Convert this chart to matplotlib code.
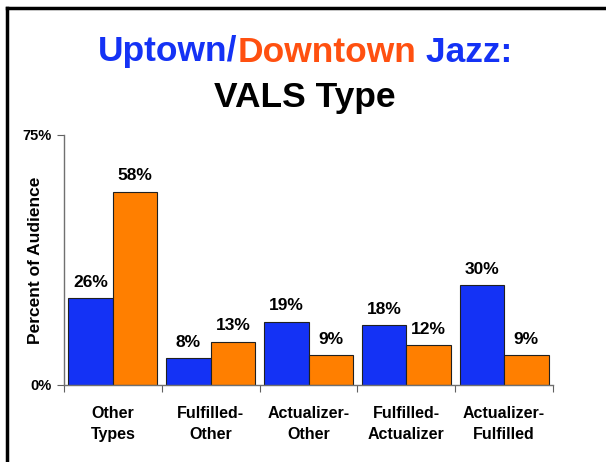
import matplotlib
matplotlib.use("Agg")
import matplotlib.pyplot as plt
import numpy as np
from matplotlib.lines import Line2D

plt.rcParams['font.family'] = ['Liberation Sans', 'DejaVu Sans']
plt.rcParams['font.weight'] = 'bold'

categories = ["Other\nTypes", "Fulfilled-\nOther", "Actualizer-\nOther",
              "Fulfilled-\nActualizer", "Actualizer-\nFulfilled"]
uptown = [26, 8, 19, 18, 30]
downtown = [58, 13, 9, 12, 9]
ytick_vals = [0, 75]
ytick_labels = ["0%", "75%"]

blue = "#1432F5"
orange = "#FF7F00"

fig = plt.figure(figsize=(6.06, 4.62), dpi=100)
ax = fig.add_axes([64/606, 1-385/462, (553-64)/606, (385-135)/462])

x = np.arange(len(categories))
w = 0.455
ax.bar(x - w/2, uptown, width=w, color=blue, edgecolor="#202020", linewidth=0.8)
ax.bar(x + w/2, downtown, width=w, color=orange, edgecolor="#202020", linewidth=0.8)

for xi, v in zip(x - w/2, uptown):
    ax.annotate(f"{v}%", (xi, v), xytext=(0, 6), textcoords="offset points",
                ha="center", va="bottom", fontsize=12.5, fontweight="bold")
for xi, v in zip(x + w/2, downtown):
    ax.annotate(f"{v}%", (xi, v), xytext=(0, 6), textcoords="offset points",
                ha="center", va="bottom", fontsize=12.5, fontweight="bold")

ax.set_xlim(-0.5, len(categories) - 0.5)
ax.set_ylim(0, 75)
ax.set_yticks(ytick_vals)
ax.set_yticklabels(ytick_labels, fontsize=10.5, fontweight="bold")
ax.set_xticks(np.arange(len(categories) + 1) - 0.5)
ax.set_xticklabels([])
ax.set_xticks(x, minor=True)
ax.set_xticklabels(categories, minor=True, fontsize=11.5, fontweight="bold", linespacing=1.55)
ax.tick_params(axis='x', which='minor', length=0, pad=15)
ax.tick_params(axis='x', which='major', length=5, color="#606060", direction='out')
ax.tick_params(axis='y', length=5, color="#606060", direction='out', pad=4)
for s in ["top", "right"]:
    ax.spines[s].set_visible(False)
for s in ["left", "bottom"]:
    ax.spines[s].set_color("#707070")
    ax.spines[s].set_linewidth(1)

ax.set_ylabel("Percent of Audience", fontsize=12.5, fontweight="bold")
ax.yaxis.set_label_coords(-0.043, 0.5)

# Title in two colours
fig.canvas.draw()
renderer = fig.canvas.get_renderer()
parts = [("Uptown/", blue), ("Downtown", "#FF5010"), (" Jazz:", blue)]
fs = 25.5
texts = [fig.text(0, 0, p, fontsize=fs, fontweight="bold", color=c, va="center") for p, c in parts]
widths = [t.get_window_extent(renderer).width for t in texts]
total = sum(widths)
xstart = 305 - total / 2
for t, wd in zip(texts, widths):
    t.set_position((xstart / 606, 1 - 52/462))
    xstart += wd
fig.text(305/606, 1 - 97/462, "VALS Type", fontsize=fs, fontweight="bold", color="black",
         ha="center", va="center")

# Frame
fig.add_artist(Line2D([7/606, 7/606], [0, 1 - 8/462], color="black", linewidth=2.5, transform=fig.transFigure))
fig.add_artist(Line2D([7/606, 1], [1 - 8/462, 1 - 8/462], color="black", linewidth=2.5, transform=fig.transFigure))

fig.savefig("out.png", dpi=100)
